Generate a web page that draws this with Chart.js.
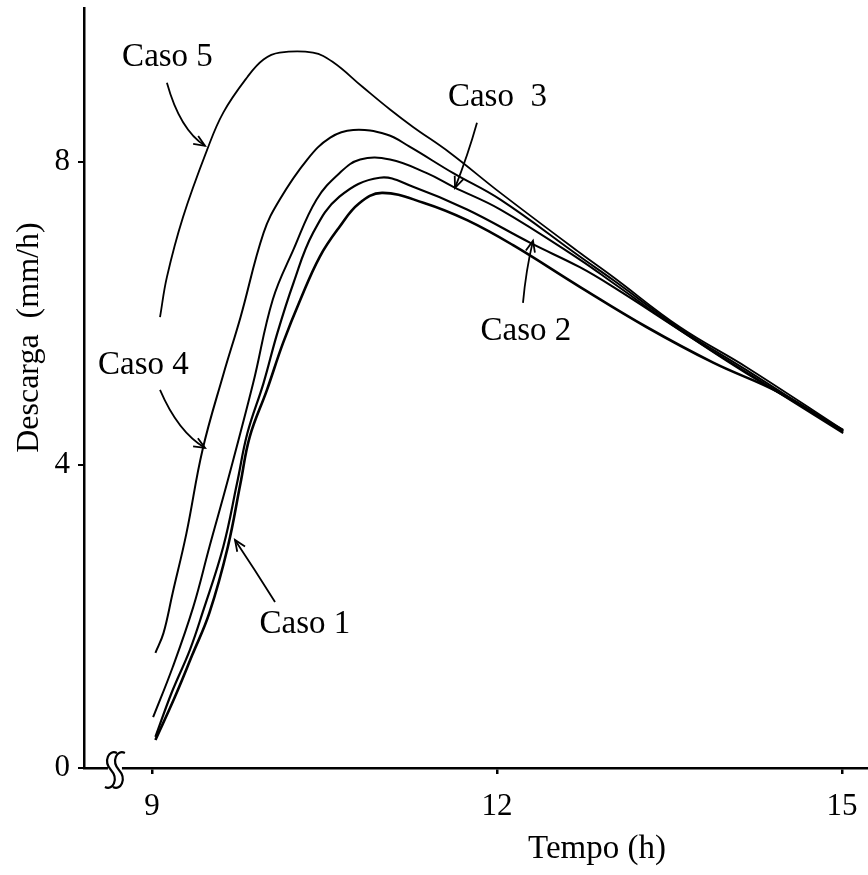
<!DOCTYPE html>
<html>
<head>
<meta charset="utf-8">
<script src="https://cdn.jsdelivr.net/npm/chart.js@4/dist/chart.umd.min.js"></script>
<style>
  html, body { margin: 0; padding: 0; background: #fff; }
  #wrap { width: 868px; height: 875px; position: relative; }
</style>
</head>
<body>
<div id="wrap"><canvas id="c" width="868" height="875"></canvas></div>
<script>
// ---- Data ----
const tickTempo = [9, 12, 15];
const tickDescarga = [0, 4, 8];

const tempoCaso5 = [9.07, 9.13, 9.27, 9.48, 9.62, 9.83, 9.97, 10.11, 10.40, 10.57, 10.83, 11.07, 11.27, 11.59, 12.03, 12.72, 13.01, 13.59, 14.17, 15.01];
const descargaCaso5 = [5.95, 6.48, 7.27, 8.16, 8.65, 9.12, 9.35, 9.44, 9.44, 9.32, 8.99, 8.69, 8.46, 8.12, 7.59, 6.80, 6.48, 5.82, 5.29, 4.46];

const tempoCaso4 = [9.03, 9.10, 9.18, 9.30, 9.44, 9.62, 9.77, 9.97, 10.11, 10.35, 10.55, 10.75, 11.04, 11.24, 11.62, 12.03, 12.72, 13.01, 13.59, 14.17, 15.01];
const descargaCaso4 = [1.52, 1.78, 2.31, 3.10, 4.20, 5.19, 5.95, 7.06, 7.50, 8.03, 8.32, 8.42, 8.36, 8.20, 7.85, 7.50, 6.75, 6.44, 5.80, 5.25, 4.44];

const tempoCaso3 = [9.01, 9.18, 9.36, 9.50, 9.66, 9.88, 10.05, 10.23, 10.43, 10.63, 10.81, 11.07, 11.39, 11.62, 12.03, 12.72, 13.01, 13.59, 14.17, 15.01];
const descargaCaso3 = [0.67, 1.33, 2.13, 2.92, 3.80, 5.08, 6.18, 6.84, 7.50, 7.85, 8.03, 8.03, 7.85, 7.67, 7.37, 6.71, 6.40, 5.78, 5.22, 4.42];

const tempoCaso2 = [9.03, 9.17, 9.33, 9.44, 9.62, 9.74, 9.83, 9.97, 10.09, 10.23, 10.40, 10.63, 10.98, 11.27, 11.74, 12.29, 12.72, 13.01, 13.59, 14.17, 15.01];
const descargaCaso2 = [0.41, 0.99, 1.56, 2.05, 2.92, 3.76, 4.42, 5.08, 5.74, 6.40, 7.06, 7.54, 7.79, 7.67, 7.37, 6.93, 6.61, 6.35, 5.78, 5.21, 4.46];

const tempoCaso1 = [9.03, 9.20, 9.35, 9.50, 9.66, 9.77, 9.85, 10.00, 10.14, 10.29, 10.46, 10.63, 10.80, 11.00, 11.36, 11.74, 12.14, 12.72, 13.30, 13.88, 14.46, 15.01];
const descargaCaso1 = [0.37, 0.94, 1.49, 2.05, 2.92, 3.76, 4.37, 4.99, 5.61, 6.18, 6.75, 7.14, 7.45, 7.59, 7.46, 7.23, 6.90, 6.35, 5.82, 5.35, 4.95, 4.44];

const serieNomes = ['Caso 1', 'Caso 2', 'Caso 3', 'Caso 4', 'Caso 5'];

// ---- Build datasets ----
function pts(xs, ys) { return xs.map((x, i) => ({ x: x, y: ys[i] })); }
const seriesData = [
  pts(tempoCaso1, descargaCaso1),
  pts(tempoCaso2, descargaCaso2),
  pts(tempoCaso3, descargaCaso3),
  pts(tempoCaso4, descargaCaso4),
  pts(tempoCaso5, descargaCaso5)
];
const widths = [2.6, 2.2, 2.0, 2.0, 1.8];

const FONT = '"Liberation Serif", "Times New Roman", serif';

// annotation labels/arrows in data coordinates
const annotations = [
  { text: 'Caso 5', at: [9.135, 9.38], arrow: [[9.130, 9.043], [9.243, 8.422], [9.461, 8.211]] },
  { text: 'Caso 4', at: [8.926, 5.32], arrow: [[9.070, 4.990], [9.226, 4.436], [9.461, 4.224]] },
  { text: 'Caso  3', at: [12.004, 8.851], arrow: [[11.826, 8.515], [11.748, 8.092], [11.635, 7.657]] },
  { text: 'Caso 2', at: [12.252, 5.769], arrow: [[12.226, 6.139], [12.252, 6.574], [12.313, 6.957]] },
  { text: 'Caso 1', at: [10.330, 1.894], arrow: [[10.070, 2.191], [9.896, 2.614], [9.722, 3.010]] }
];

const overlay = {
  id: 'overlay',
  afterDraw(chart) {
    const ctx = chart.ctx;
    const xs = chart.scales.x, ys = chart.scales.y;
    const ca = chart.chartArea;
    ctx.save();
    ctx.fillStyle = '#000';
    ctx.strokeStyle = '#000';
    // labels + arrows
    ctx.font = '33px ' + FONT;
    ctx.textAlign = 'center';
    ctx.textBaseline = 'middle';
    annotations.forEach(a => {
      ctx.fillText(a.text, xs.getPixelForValue(a.at[0]), ys.getPixelForValue(a.at[1]));
      const p = a.arrow.map(q => [xs.getPixelForValue(q[0]), ys.getPixelForValue(q[1])]);
      ctx.lineWidth = 1.8;
      ctx.beginPath();
      ctx.moveTo(p[0][0], p[0][1]);
      ctx.quadraticCurveTo(p[1][0], p[1][1], p[2][0], p[2][1]);
      ctx.stroke();
      const ang = Math.atan2(p[2][1] - p[1][1], p[2][0] - p[1][0]);
      const L = 12, w = 0.4;
      ctx.beginPath();
      ctx.moveTo(p[2][0] - L * Math.cos(ang - w), p[2][1] - L * Math.sin(ang - w));
      ctx.lineTo(p[2][0], p[2][1]);
      ctx.lineTo(p[2][0] - L * Math.cos(ang + w), p[2][1] - L * Math.sin(ang + w));
      ctx.stroke();
    });
    // axis titles
    ctx.font = '33px ' + FONT;
    ctx.fillText('Tempo (h)', xs.getPixelForValue(12.87), ca.bottom + 81);
    ctx.save();
    ctx.translate(ca.left - 54, ys.getPixelForValue(5.68));
    ctx.rotate(-Math.PI / 2);
    ctx.font = '32px ' + FONT;
    ctx.fillText('Descarga  (mm/h)', 0, 0);
    ctx.restore();
    // axis break symbol
    const bx = xs.getPixelForValue(8.678), by = ca.bottom + 2;
    ctx.fillStyle = '#fff';
    ctx.fillRect(bx - 7, by - 6, 14, 9);
    ctx.lineWidth = 2.2;
    [-4, 4].forEach(d => {
      const cx = bx + d, cy = by;
      ctx.beginPath();
      ctx.moveTo(cx + 6, cy - 17);
      ctx.bezierCurveTo(cx - 2, cy - 21, cx - 8, cy - 9, cx, cy);
      ctx.bezierCurveTo(cx + 8, cy + 9, cx + 2, cy + 21, cx - 6, cy + 17);
      ctx.stroke();
    });
    ctx.restore();
  }
};

new Chart(document.getElementById('c'), {
  type: 'line',
  data: {
    datasets: seriesData.map((d, i) => ({
      label: serieNomes[i],
      data: d,
      borderColor: '#000',
      borderWidth: widths[i],
      pointRadius: 0,
      tension: 0.4,
      fill: false
    }))
  },
  options: {
    responsive: false,
    animation: false,
    layout: { padding: { top: 8, right: 0, left: 0, bottom: 0 } },
    plugins: { legend: { display: false }, tooltip: { enabled: false } },
    scales: {
      x: {
        type: 'linear',
        min: 8.409,
        max: 15.226,
        afterFit(s) { s.height = 107; s.paddingLeft = 0; s.paddingRight = 0; },
        afterBuildTicks(s) { s.ticks = tickTempo.map(v => ({ value: v })); },
        border: { display: true, color: '#000', width: 2.5 },
        grid: { drawOnChartArea: false, drawTicks: true, tickLength: 6, color: '#000', lineWidth: 2.5 },
        ticks: { color: '#000', font: { family: FONT, size: 31 }, padding: 14, maxRotation: 0 }
      },
      y: {
        type: 'linear',
        min: 0,
        max: 10.03,
        afterFit(s) { s.width = 84; s.paddingTop = 0; s.paddingBottom = 0; },
        afterBuildTicks(s) { s.ticks = tickDescarga.map(v => ({ value: v })); },
        border: { display: true, color: '#000', width: 2.5 },
        grid: { drawOnChartArea: false, drawTicks: true, tickLength: 6, color: '#000', lineWidth: 2 },
        ticks: { color: '#000', font: { family: FONT, size: 31 }, padding: 8 }
      }
    }
  },
  plugins: [overlay]
});
</script>
</body>
</html>
